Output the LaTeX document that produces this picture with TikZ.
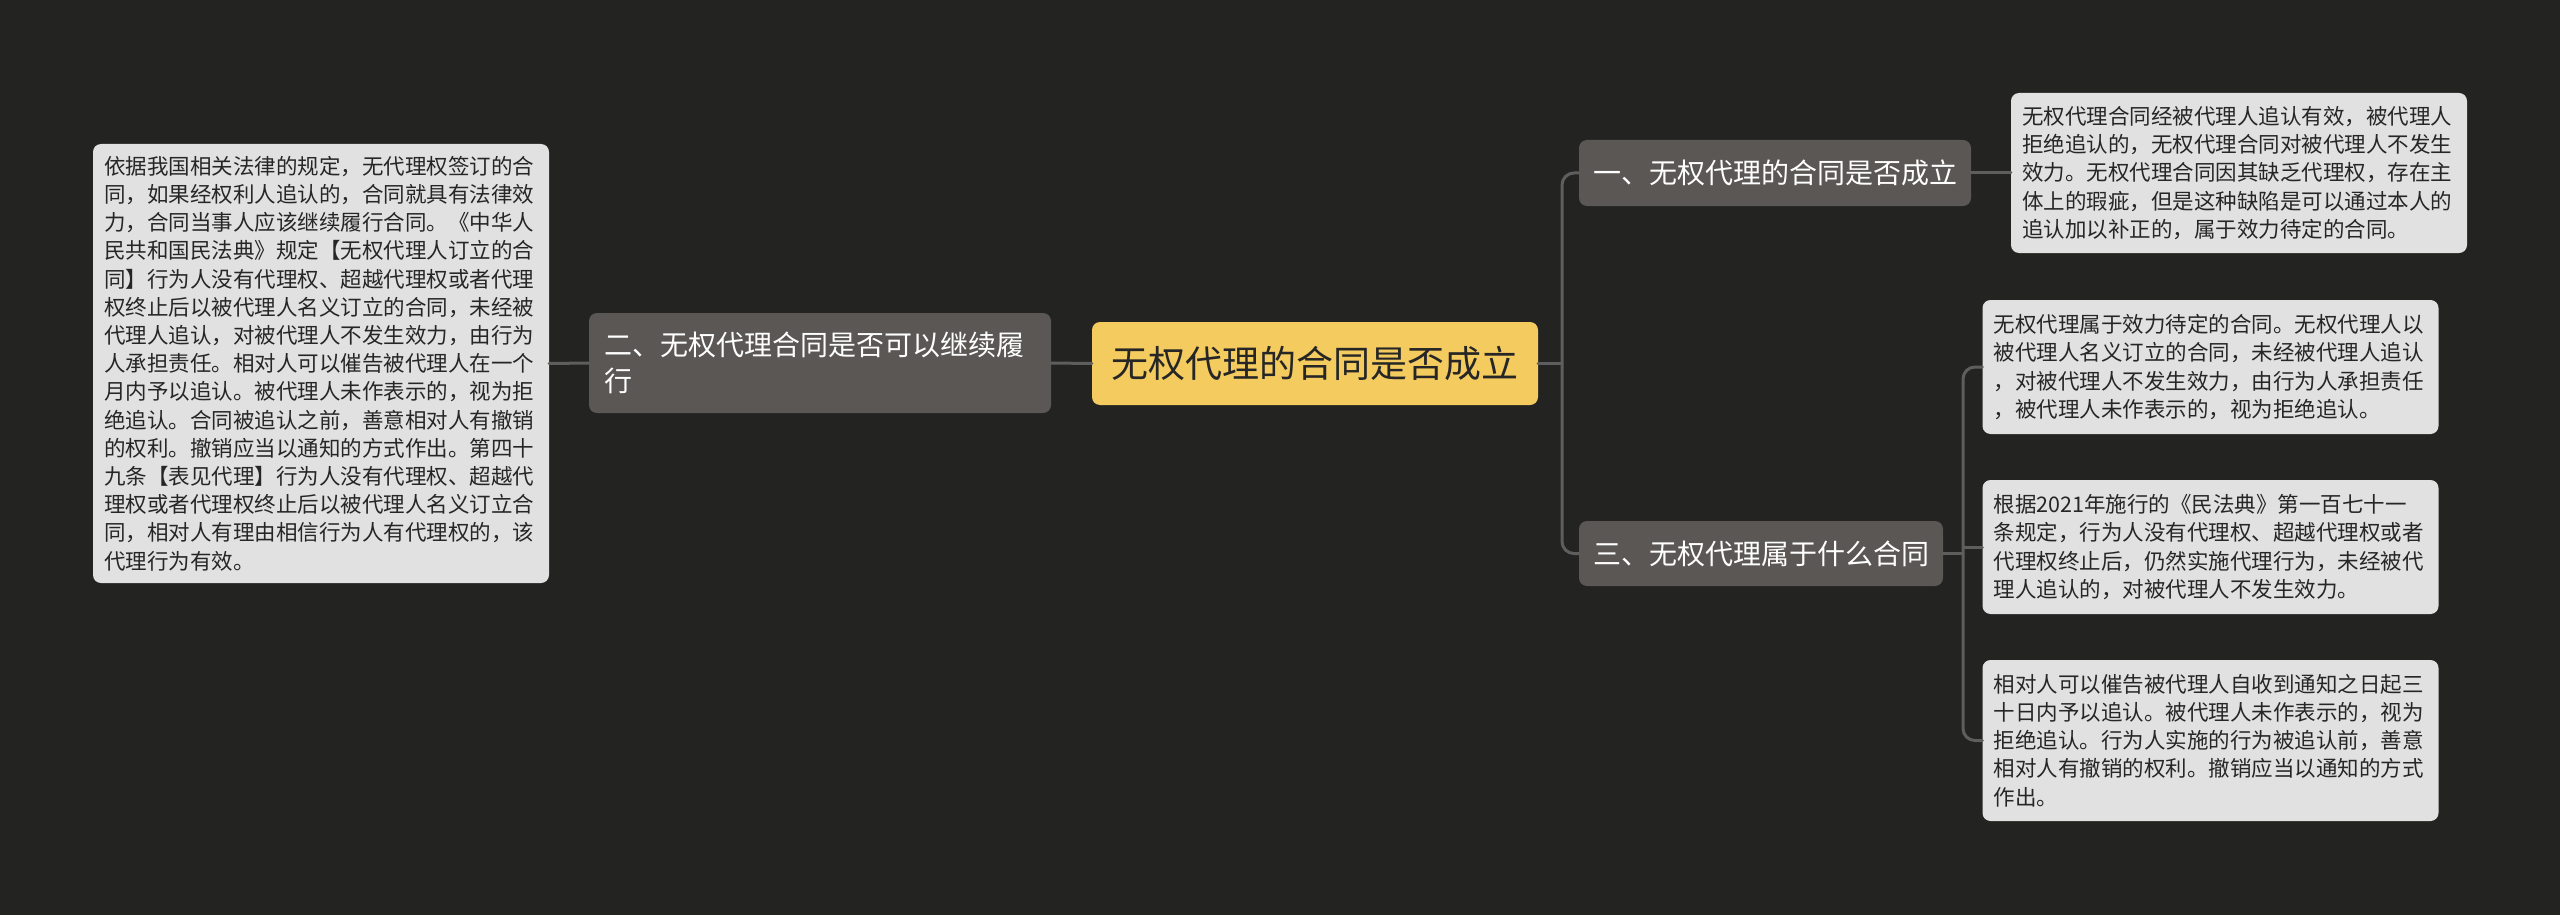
\documentclass[tikz,border=0pt]{standalone}
\usepackage{fontspec}
\newfontfamily\cjk{Noto Sans CJK SC}
\usepackage{tikz}
\usetikzlibrary{positioning}

\definecolor{bgdark}{HTML}{232321}
\definecolor{topicgray}{HTML}{5A5754}
\definecolor{rootyellow}{HTML}{F4CB5E}
\definecolor{leafgray}{HTML}{E1E1E1}
\definecolor{inkdark}{HTML}{262626}
\definecolor{linkgray}{HTML}{5E5E5E}

\tikzset{
  rootbox/.style={fill=rootyellow,text=inkdark,rounded corners=8pt,
    font=\cjk\fontsize{37pt}{44pt}\selectfont,minimum width=446pt,minimum height=83pt},
  topicbox/.style={fill=topicgray,text=white,rounded corners=8pt,
    font=\cjk\fontsize{28pt}{36pt}\selectfont,inner xsep=14pt},
  leafbox/.style={fill=leafgray,text=inkdark,rounded corners=8pt,align=left,
    font=\cjk\fontsize{21.5pt}{28.2pt}\selectfont,inner xsep=11pt,text width=434pt},
  link/.style={draw=linkgray,line width=3pt}
}

\begin{document}
\begin{tikzpicture}[x=1pt,y=-1pt,line cap=round,line join=round]
\path[use as bounding box,fill=bgdark] (0,0) rectangle (2560,915);
% centre and the three topics
\node[rootbox] (root) at (1315,363.5) {无权代理的合同是否成立};
\node[topicbox,align=left,text width=432pt,inner xsep=15pt,minimum height=100pt] (topic2) at (820,363) {二、无权代理合同是否可以继续履\\行};
\node[topicbox,minimum width=392pt,minimum height=66pt] (topic1) at (1775,173) {一、无权代理的合同是否成立};
\node[topicbox,minimum width=364pt,minimum height=65pt] (topic3) at (1761,553.5) {三、无权代理属于什么合同};
% leaves
\node[leafbox,minimum height=439pt] (leafL) at (321,363.5) {依据我国相关法律的规定，无代理权签订的合\\同，如果经权利人追认的，合同就具有法律效\\力，合同当事人应该继续履行合同。《中华人\\民共和国民法典》规定【无权代理人订立的合\\同】行为人没有代理权、超越代理权或者代理\\权终止后以被代理人名义订立的合同，未经被\\代理人追认，对被代理人不发生效力，由行为\\人承担责任。相对人可以催告被代理人在一个\\月内予以追认。被代理人未作表示的，视为拒\\绝追认。合同被追认之前，善意相对人有撤销\\的权利。撤销应当以通知的方式作出。第四十\\九条【表见代理】行为人没有代理权、超越代\\理权或者代理权终止后以被代理人名义订立合\\同，相对人有理由相信行为人有代理权的，该\\代理行为有效。};
\node[leafbox,minimum height=160pt] (leafA) at (2239,173) {无权代理合同经被代理人追认有效，被代理人\\拒绝追认的，无权代理合同对被代理人不发生\\效力。无权代理合同因其缺乏代理权，存在主\\体上的瑕疵，但是这种缺陷是可以通过本人的\\追认加以补正的，属于效力待定的合同。};
\node[leafbox,minimum height=134pt] (leafB) at (2210.5,367) {无权代理属于效力待定的合同。无权代理人以\\被代理人名义订立的合同，未经被代理人追认\\，对被代理人不发生效力，由行为人承担责任\\，被代理人未作表示的，视为拒绝追认。};
\node[leafbox,minimum height=134pt] (leafC) at (2210.5,547) {根据2021年施行的《民法典》第一百七十一\\条规定，行为人没有代理权、超越代理权或者\\代理权终止后，仍然实施代理行为，未经被代\\理人追认的，对被代理人不发生效力。};
\node[leafbox,minimum height=161pt] (leafD) at (2210.5,740.5) {相对人可以催告被代理人自收到通知之日起三\\十日内予以追认。被代理人未作表示的，视为\\拒绝追认。行为人实施的行为被追认前，善意\\相对人有撤销的权利。撤销应当以通知的方式\\作出。};
% connectors
\coordinate (j1) at (1562,363.5);
\coordinate (j3) at (1963,553.5);
\draw[link] (root.west) -- (topic2.east);
\draw[link] (topic2.west) -- (leafL.east);
\draw[link] (root.east) -- (j1);
\draw[link,rounded corners=12pt] (topic1.west) -| (j1) |- (topic3.west);
\draw[link] (topic1.east) -- (leafA.west);
\draw[link] (topic3.east) -- (j3);
\draw[link,rounded corners=12pt] (leafB.west) -| (j3) |- (leafD.west);
\draw[link] (leafC.west) -- (leafC.west -| j3);
\end{tikzpicture}
\end{document}
